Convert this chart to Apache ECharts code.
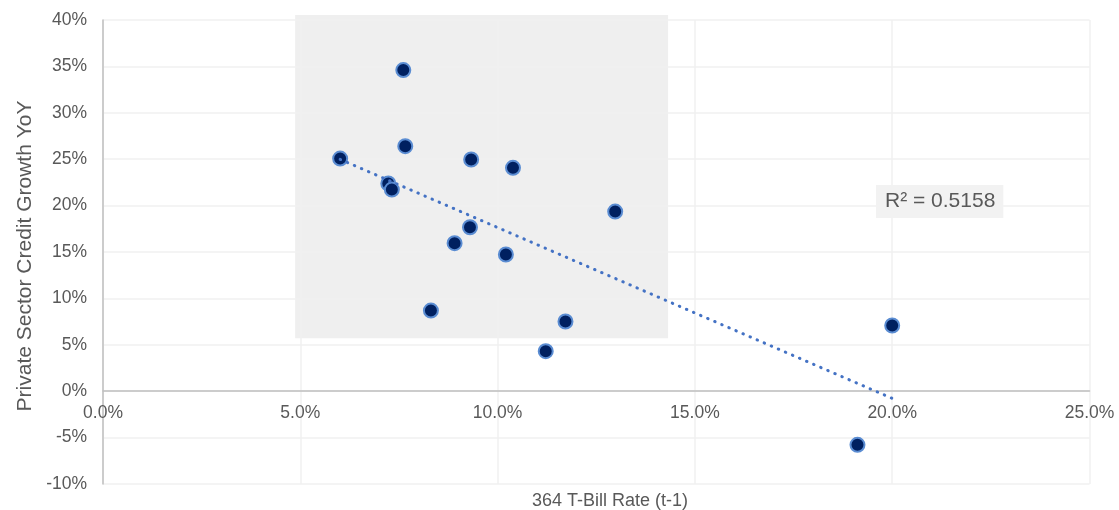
<!DOCTYPE html>
<html>
<head>
<meta charset="utf-8">
<script src="https://cdn.jsdelivr.net/npm/echarts@6/dist/echarts.min.js"></script>
<style>
html,body{margin:0;padding:0;background:#fff;}
#chart{width:1119px;height:510px;}
</style>
</head>
<body>
<div id="chart"></div>
<script>
// 364 T-Bill rate (t-1), %
const billRate = [7.61, 7.66, 6.01, 9.33, 10.39, 7.23, 7.32, 12.98, 9.30, 8.91, 10.21, 8.31, 11.72, 11.22, 20.00, 19.12];
// Private sector credit growth YoY, %
const creditGrowth = [34.6, 26.4, 25.07, 24.97, 24.07, 22.38, 21.73, 19.36, 17.67, 15.95, 14.73, 8.69, 7.51, 4.31, 7.08, -5.78];
const xTicks = [0, 5, 10, 15, 20, 25];
const yTicks = [-10, -5, 0, 5, 10, 15, 20, 25, 30, 35, 40];
// shaded region [xFrom, yFrom, xTo, yTo] in data units
const shadedRegion = [4.87, 5.7, 14.32, 40.55];
const r2Label = 'R² = 0.5158';
const xTitle = '364 T-Bill Rate (t-1)';
const yTitle = 'Private Sector Credit Growth YoY';

// least-squares trendline
const n = billRate.length;
const mx = billRate.reduce((a, b) => a + b, 0) / n;
const my = creditGrowth.reduce((a, b) => a + b, 0) / n;
let sxy = 0, sxx = 0;
for (let i = 0; i < n; i++) { sxy += (billRate[i] - mx) * (creditGrowth[i] - my); sxx += (billRate[i] - mx) ** 2; }
const slope = sxy / sxx, icpt = my - slope * mx;
const xMin = Math.min(...billRate), xMax = Math.max(...billRate);
const trend = [[xMin, icpt + slope * xMin], [xMax, icpt + slope * xMax]];

const points = billRate.map((x, i) => [x, creditGrowth[i]]);
const textColor = '#595959';
const font = 'Liberation Sans, Arial, sans-serif';

// layout of the plot area
const G = { left: 103, right: 29.5, top: 20, bottom: 26 };
const plotH = 510 - G.top - G.bottom;
const yMinV = yTicks[0], yMaxV = yTicks[yTicks.length - 1];
// height of an overlay grid whose bottom edge sits on the y = 0 line (carries the x tick labels)
const zeroGridH = plotH * (yMaxV - 0) / (yMaxV - yMinV);

const chart = echarts.init(document.getElementById('chart'));
chart.setOption({
  animation: false,
  title: {
    text: xTitle, left: 610, top: 492, textAlign: 'center',
    textStyle: { color: textColor, fontSize: 18, fontWeight: 'normal', fontFamily: font }, padding: 0
  },
  grid: [
    { left: G.left, right: G.right, top: G.top, bottom: G.bottom, containLabel: false, outerBoundsMode: 'none' },
    { left: G.left, right: G.right, top: G.top, height: zeroGridH, containLabel: false, outerBoundsMode: 'none' }
  ],
  xAxis: [{
    gridIndex: 0, type: 'value', min: xTicks[0], max: xTicks[xTicks.length - 1], interval: 5,
    axisLine: { show: true, onZero: true, lineStyle: { color: '#bfbfbf', width: 1.5 } },
    axisTick: { show: false },
    axisLabel: { show: false },
    splitLine: { show: true, lineStyle: { color: '#f0f0f0', width: 1.5 } }
  }, {
    gridIndex: 1, type: 'value', min: xTicks[0], max: xTicks[xTicks.length - 1], interval: 5,
    axisLine: { show: false, onZero: false }, axisTick: { show: false },
    axisLabel: { color: textColor, fontSize: 17.5, fontFamily: font, margin: 13,
      formatter: v => v.toFixed(1) + '%' },
    splitLine: { show: false }
  }],
  yAxis: [{
    gridIndex: 0, type: 'value', min: yMinV, max: yMaxV, interval: 5,
    axisLine: { show: true, onZero: false, lineStyle: { color: '#bfbfbf', width: 1.5 } },
    axisTick: { show: false },
    axisLabel: { color: textColor, fontSize: 17.5, fontFamily: font, margin: 16,
      formatter: v => v + '%' },
    splitLine: { show: true, lineStyle: { color: '#f0f0f0', width: 1.5 } },
    name: yTitle, nameLocation: 'middle', nameGap: 62,
    nameTextStyle: { color: textColor, fontSize: 21, fontFamily: font, padding: [0, 8, 0, 0] }
  }, {
    gridIndex: 1, type: 'value', min: 0, max: yMaxV, show: false
  }],
  series: [{
    type: 'custom', z: -1, silent: true, clip: false,
    data: [shadedRegion],
    renderItem: (params, api) => {
      const p1 = api.coord([api.value(0), api.value(3)]);
      const p2 = api.coord([api.value(2), api.value(1)]);
      return { type: 'rect', shape: { x: p1[0], y: p1[1], width: p2[0] - p1[0], height: p2[1] - p1[1] },
        style: { fill: '#efefef' } };
    }
  }, {
    type: 'scatter', z: 3, data: points, symbolSize: 14,
    itemStyle: { color: '#002060', borderColor: '#5a8cd2', borderWidth: 2, opacity: 1 }
  }, {
    type: 'line', z: 4, data: trend, symbol: 'none', silent: true,
    lineStyle: { color: '#4472c4', width: 3, type: [0.5, 7.2], cap: 'round' }
  }],
  graphic: [{
    type: 'text', left: 876, top: 185, z: 100,
    style: { text: r2Label, fontSize: 21, fontFamily: font, fill: textColor,
      backgroundColor: '#f2f2f2', padding: [6, 8, 6, 9] }
  }]
});
</script>
</body>
</html>
